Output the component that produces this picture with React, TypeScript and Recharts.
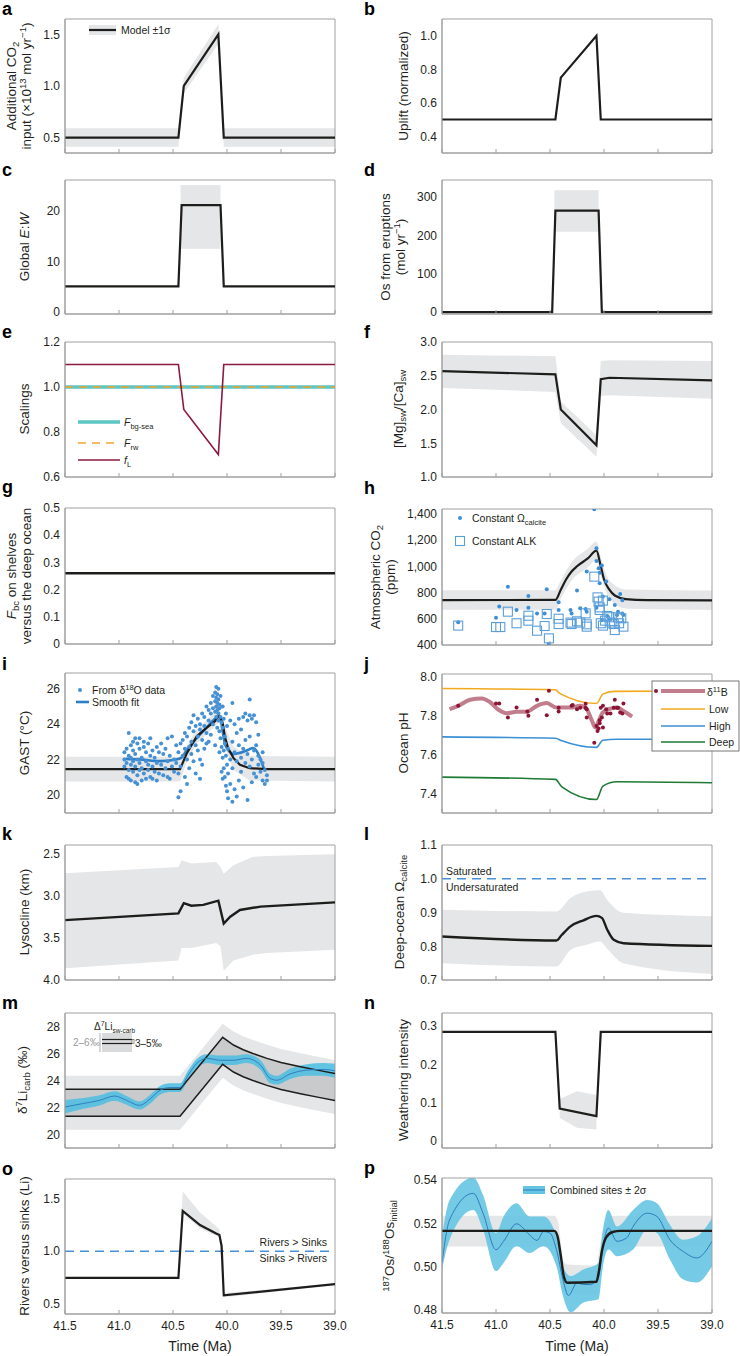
import React from 'react';
import { ComposedChart, Line, Area, Scatter, XAxis, YAxis, ReferenceLine, ReferenceArea } from 'recharts';

const FONT = '"Liberation Sans", Arial, Helvetica, sans-serif';
const TXT = '#231f20';
const FRAME = '#a0a0a0';
const GREY = '#e5e6e7';
const DGREY = '#c9cacb';
const BLACK = '#1d1d1b';
const DASHBLUE = '#4a90d9';

const XT = [41.5, 41.0, 40.5, 40.0, 39.5, 39.0];
const XDOM: [number, number] = [39.0, 41.5];
const PW = 270;
const LP = 64;
const TP = 6;
const RP = 16;

type P2 = [number, number][];
type P3 = [number, number, number][];

// ---------- a: additional CO2 input ----------
const aLine: P2 = [[41.5, 0.5], [40.45, 0.5], [40.4, 1.0], [40.08, 1.5], [40.03, 0.5], [39.0, 0.5]];
const aBand: P3 = [[41.5, 0.41, 0.59], [40.45, 0.41, 0.59], [40.4, 0.93, 1.08], [40.08, 1.41, 1.6], [40.03, 0.41, 0.59], [39.0, 0.41, 0.59]];
// ---------- b: uplift ----------
const bLine: P2 = [[41.5, 0.5], [40.45, 0.5], [40.4, 0.75], [40.07, 1.0], [40.03, 0.5], [39.0, 0.5]];
// ---------- c: global E:W ----------
const cLine: P2 = [[41.5, 5], [40.45, 5], [40.42, 21.2], [40.06, 21.2], [40.03, 5], [39.0, 5]];
const cBand: P3 = [[40.43, 12.5, 25.2], [40.06, 12.5, 25.2]];
// ---------- d: Os from eruptions ----------
const dLine: P2 = [[41.5, 0], [40.48, 0], [40.45, 265], [40.05, 265], [40.02, 0], [39.0, 0]];
const dBand: P3 = [[40.46, 210, 318], [40.05, 210, 318]];
// ---------- e: scalings ----------
const eBgSea: P2 = [[41.5, 1.0], [39.0, 1.0]];
const eRw: P2 = [[41.5, 1.0], [39.0, 1.0]];
const eFL: P2 = [[41.5, 1.1], [40.45, 1.1], [40.4, 0.9], [40.08, 0.7], [40.03, 1.1], [39.0, 1.1]];
// ---------- f: Mg/Ca ----------
const fLine: P2 = [[41.5, 2.57], [40.45, 2.52], [40.4, 2.0], [40.07, 1.47], [40.03, 2.45], [39.95, 2.47], [39.0, 2.43]];
const fBand: P3 = [[41.5, 2.32, 2.81], [40.45, 2.26, 2.79], [40.4, 1.8, 2.12], [40.07, 1.3, 1.62], [40.03, 2.2, 2.72], [39.95, 2.21, 2.73], [39.0, 2.16, 2.72]];
// ---------- g: Fbc ----------
const gLine: P2 = [[41.5, 0.26], [39.0, 0.26]];
// ---------- h: atmospheric CO2 ----------
const hLine: P2 = [[41.5, 740], [40.45, 741], [40.4, 820], [40.35, 900], [40.3, 960], [40.25, 1000], [40.15, 1060], [40.07, 1120], [40.03, 1000], [40.0, 900], [39.95, 820], [39.9, 775], [39.8, 748], [39.6, 740], [39.0, 738]];
const hBand: P3 = [[41.5, 665, 815], [40.45, 666, 816], [40.4, 750, 890], [40.3, 890, 1030], [40.15, 990, 1135], [40.07, 1050, 1190], [40.03, 930, 1070], [39.95, 750, 890], [39.8, 675, 822], [39.0, 663, 813]];
const hCirc: P2 = [[41.35, 569], [41.0, 605], [40.97, 690], [40.89, 843], [40.81, 664], [40.7, 772], [40.7, 682], [40.62, 638], [40.55, 638], [40.53, 823], [40.51, 403], [40.42, 723], [40.42, 664], [40.31, 664], [40.3, 638], [40.25, 813], [40.22, 677], [40.17, 672], [40.16, 959], [40.16, 651], [40.09, 1438], [40.07, 1138], [40.07, 1041], [40.05, 985], [40.04, 951], [40.02, 1005], [40.04, 869], [39.98, 882], [40.01, 767], [39.95, 746], [39.95, 592], [39.9, 703], [39.88, 626], [39.87, 651], [39.85, 787], [39.83, 738], [39.83, 638], [39.82, 626], [40.02, 587], [40.07, 682], [39.97, 618]];
const hSq: P2 = [[41.35, 544], [41.0, 533], [40.96, 533], [40.89, 651], [40.81, 562], [40.7, 582], [40.7, 620], [40.62, 505], [40.55, 541], [40.53, 633], [40.51, 446], [40.42, 597], [40.42, 556], [40.31, 567], [40.3, 556], [40.25, 577], [40.22, 567], [40.17, 638], [40.16, 554], [40.16, 536], [40.09, 920], [40.06, 761], [40.05, 728], [40.04, 664], [40.04, 684], [40.01, 736], [40.03, 562], [40.01, 544], [39.99, 582], [39.97, 618], [39.95, 608], [39.93, 567], [39.91, 556], [39.9, 510], [39.87, 608], [39.86, 562], [39.84, 600], [39.82, 536]];
// ---------- i: GAST ----------
const iLine: P2 = [[41.5, 21.45], [40.435, 21.45], [40.37, 22.37], [40.28, 23.31], [40.19, 23.79], [40.11, 24.17], [40.074, 24.49], [40.04, 24.07], [40.02, 23.3], [39.99, 22.65], [39.94, 22.08], [39.88, 21.7], [39.79, 21.5], [39.63, 21.45], [39.0, 21.45]];
const iBand: P3 = [[41.5, 20.75, 22.15], [40.435, 20.75, 22.15], [40.37, 21.9, 22.8], [40.28, 22.9, 23.7], [40.19, 23.4, 24.2], [40.074, 24.1, 24.9], [40.02, 22.7, 23.9], [39.94, 21.4, 22.7], [39.79, 20.8, 22.2], [39.0, 20.75, 22.15]];
const iFit: P2 = [[40.94, 22.03], [40.81, 22.0], [40.62, 21.9], [40.47, 22.0], [40.42, 22.1], [40.37, 22.55], [40.28, 23.2], [40.19, 23.8], [40.1, 24.35], [40.065, 24.45], [40.04, 23.6], [40.02, 22.9], [39.99, 22.55], [39.94, 22.3], [39.88, 22.37], [39.8, 22.55], [39.76, 22.65], [39.71, 22.3], [39.66, 21.5]];
const iPts: P2 = [
  [40.95, 22.0], [40.95, 21.6], [40.95, 22.4], [40.93, 21.0], [40.93, 22.6], [40.93, 21.8], [40.91, 20.9], [40.91, 22.2], [40.91, 21.4], [40.91, 23.5],
  [40.89, 21.7], [40.89, 22.8], [40.89, 20.8], [40.89, 22.1], [40.87, 23.0], [40.87, 21.3], [40.87, 22.5], [40.87, 21.9], [40.85, 20.7], [40.85, 22.3],
  [40.85, 21.6], [40.85, 23.2], [40.83, 21.1], [40.83, 22.0], [40.83, 22.9], [40.83, 20.6], [40.81, 21.8], [40.81, 23.2], [40.81, 21.4], [40.81, 22.6],
  [40.79, 20.8], [40.79, 22.1], [40.79, 21.5], [40.77, 22.7], [40.77, 21.2], [40.77, 23.0], [40.75, 21.9], [40.75, 20.9], [40.75, 22.4], [40.73, 21.4],
  [40.73, 22.9], [40.73, 21.7], [40.71, 21.0], [40.71, 22.2], [40.71, 23.2], [40.69, 21.6], [40.69, 22.5], [40.69, 20.9], [40.67, 22.1], [40.67, 21.3],
  [40.65, 21.8], [40.65, 22.7], [40.65, 20.8], [40.63, 22.4], [40.63, 21.2], [40.61, 21.7], [40.61, 22.9], [40.59, 21.1], [40.59, 22.3], [40.57, 22.6],
  [40.57, 21.5], [40.55, 23.2], [40.55, 21.9], [40.55, 21.0], [40.53, 22.2], [40.53, 20.9], [40.51, 23.3], [40.51, 21.6], [40.49, 22.0], [40.49, 21.3],
  [40.47, 22.8], [40.47, 21.8], [40.45, 21.2], [40.45, 22.4], [40.45, 19.85], [40.43, 22.9], [40.43, 21.6], [40.43, 20.2], [40.41, 23.1], [40.41, 22.2],
  [40.39, 22.6], [40.39, 21.0], [40.39, 23.5], [40.37, 23.3], [40.37, 22.0], [40.37, 20.6], [40.35, 23.8], [40.35, 22.7], [40.35, 21.5], [40.33, 23.0],
  [40.33, 24.1], [40.33, 22.3], [40.31, 23.6], [40.31, 21.9], [40.31, 24.5], [40.29, 22.8], [40.29, 23.9], [40.29, 21.2], [40.27, 24.3], [40.27, 23.3],
  [40.27, 22.5], [40.25, 23.7], [40.25, 24.0], [40.25, 22.0], [40.25, 20.9], [40.23, 24.6], [40.23, 23.1], [40.23, 21.7], [40.21, 23.9], [40.21, 24.4],
  [40.21, 22.6], [40.19, 25.0], [40.19, 23.5], [40.19, 22.9], [40.17, 24.2], [40.17, 24.8], [40.17, 23.0], [40.15, 24.6], [40.15, 23.4], [40.15, 25.2],
  [40.13, 24.9], [40.13, 24.0], [40.13, 25.6], [40.11, 25.3], [40.11, 24.7], [40.11, 25.8], [40.11, 22.8], [40.1, 25.0], [40.1, 25.5], [40.1, 24.4],
  [40.1, 26.1], [40.09, 25.2], [40.09, 24.8], [40.09, 25.7], [40.09, 23.8], [40.08, 24.6], [40.08, 25.4], [40.08, 24.2], [40.08, 26.0], [40.07, 25.1],
  [40.07, 24.9], [40.07, 23.6], [40.07, 22.4], [40.06, 24.4], [40.06, 23.2], [40.06, 25.6], [40.05, 22.7], [40.05, 24.1], [40.05, 21.3], [40.04, 23.8],
  [40.04, 22.1], [40.04, 20.9], [40.04, 25.0], [40.03, 22.5], [40.03, 24.3], [40.03, 21.5], [40.02, 21.0], [40.02, 23.3], [40.02, 22.9], [40.01, 22.2],
  [40.01, 20.5], [40.01, 24.6], [40.0, 21.7], [40.0, 23.9], [40.0, 20.2], [39.99, 22.6], [39.99, 19.8], [39.99, 21.2], [39.97, 22.0], [39.97, 24.2],
  [39.97, 20.6], [39.95, 21.5], [39.95, 23.0], [39.95, 19.6], [39.95, 25.2], [39.93, 22.4], [39.93, 20.3], [39.93, 24.0], [39.91, 21.9], [39.91, 23.5],
  [39.91, 19.9], [39.89, 22.8], [39.89, 20.8], [39.89, 24.3], [39.87, 21.3], [39.87, 23.7], [39.87, 22.1], [39.85, 24.4], [39.85, 20.4], [39.85, 22.6],
  [39.83, 23.1], [39.83, 21.8], [39.83, 24.6], [39.81, 22.3], [39.81, 24.2], [39.81, 19.7], [39.79, 24.5], [39.79, 21.6], [39.79, 23.3], [39.79, 25.4],
  [39.77, 22.0], [39.77, 24.3], [39.77, 20.7], [39.75, 24.5], [39.75, 22.5], [39.75, 21.2], [39.73, 22.8], [39.73, 24.1], [39.73, 21.0], [39.71, 23.4],
  [39.71, 21.7], [39.71, 22.2], [39.69, 22.0], [39.69, 21.3], [39.67, 21.8], [39.67, 20.8], [39.67, 22.4], [39.65, 21.4], [39.65, 20.6], [39.63, 20.8], [39.63, 21.1]
];
// ---------- j: ocean pH ----------
const jLow: P2 = [[41.5, 7.938], [40.45, 7.931], [40.41, 7.913], [40.07, 7.861], [40.01, 7.909], [39.91, 7.923], [39.0, 7.925]];
const jHigh: P2 = [[41.5, 7.69], [40.45, 7.683], [40.39, 7.67], [40.07, 7.636], [40.01, 7.673], [39.88, 7.678], [39.0, 7.678]];
const jDeep: P2 = [[41.5, 7.484], [40.45, 7.472], [40.39, 7.434], [40.07, 7.369], [40.01, 7.438], [39.88, 7.46], [39.0, 7.455]];
const jB11: P2 = [[41.43, 7.832], [41.35, 7.849], [41.24, 7.88], [41.13, 7.887], [41.06, 7.87], [40.98, 7.83], [40.9, 7.811], [40.81, 7.818], [40.72, 7.818], [40.62, 7.849], [40.53, 7.863], [40.44, 7.84], [40.31, 7.84], [40.22, 7.849], [40.16, 7.832], [40.11, 7.77], [40.08, 7.738], [40.05, 7.77], [40.01, 7.815], [39.94, 7.835], [39.88, 7.84], [39.82, 7.823], [39.74, 7.794]];
const jDots: P2 = [[41.35, 7.849], [41.0, 7.861], [40.97, 7.861], [40.89, 7.789], [40.81, 7.841], [40.71, 7.82], [40.7, 7.798], [40.62, 7.88], [40.53, 7.801], [40.51, 7.926], [40.42, 7.839], [40.42, 7.82], [40.3, 7.849], [40.29, 7.853], [40.25, 7.832], [40.22, 7.839], [40.17, 7.859], [40.17, 7.839], [40.16, 7.789], [40.09, 7.66], [40.07, 7.746], [40.06, 7.72], [40.05, 7.733], [40.04, 7.76], [40.04, 7.775], [40.02, 7.789], [40.03, 7.839], [40.01, 7.738], [40.01, 7.849], [39.98, 7.832], [39.97, 7.81], [39.94, 7.81], [39.91, 7.839], [39.9, 7.88], [39.88, 7.839], [39.87, 7.839], [39.85, 7.815], [39.83, 7.81], [39.82, 7.861], [40.16, 7.832]];
// ---------- k: lysocline ----------
const kLine: P2 = [[41.5, 3.29], [40.45, 3.21], [40.4, 3.09], [40.33, 3.12], [40.22, 3.11], [40.08, 3.06], [40.03, 3.33], [39.97, 3.25], [39.88, 3.17], [39.69, 3.13], [39.0, 3.08]];
const kBand: P3 = [[41.5, 2.735, 3.86], [40.45, 2.66, 3.77], [40.42, 2.58, 3.62], [40.33, 2.62, 3.62], [40.1, 2.6, 3.56], [40.06, 2.66, 3.6], [40.03, 2.74, 3.89], [39.94, 2.64, 3.77], [39.76, 2.54, 3.7], [39.63, 2.53, 3.68], [39.0, 2.51, 3.64]];
// ---------- l: deep-ocean omega ----------
const lLine: P2 = [[41.5, 0.829], [40.44, 0.817], [40.39, 0.834], [40.31, 0.859], [40.19, 0.877], [40.07, 0.89], [40.02, 0.884], [39.97, 0.849], [39.91, 0.819], [39.82, 0.809], [39.0, 0.801]];
const lBand: P3 = [[41.5, 0.75, 0.908], [40.44, 0.74, 0.903], [40.31, 0.789, 0.943], [40.15, 0.805, 0.963], [40.04, 0.814, 0.966], [39.96, 0.789, 0.933], [39.82, 0.75, 0.899], [39.0, 0.718, 0.889]];
const lSat = 1.0;
// ---------- m: d7Li ----------
const mUp: P2 = [[41.5, 23.35], [40.435, 23.35], [40.04, 27.2], [39.94, 26.63], [39.85, 26.28], [39.76, 26.0], [39.63, 25.64], [39.5, 25.33], [39.32, 25.02], [39.15, 24.75], [39.0, 24.52]];
const mLo: P2 = [[41.5, 21.35], [40.435, 21.35], [40.04, 25.2], [39.94, 24.63], [39.85, 24.28], [39.76, 24.0], [39.63, 23.64], [39.5, 23.33], [39.32, 23.02], [39.15, 22.75], [39.0, 22.52]];
const mInner: P3 = [[41.5, 21.35, 23.35], [40.435, 21.35, 23.35], [40.04, 25.2, 27.2], [39.94, 24.63, 26.63], [39.85, 24.28, 26.28], [39.76, 24.0, 26.0], [39.63, 23.64, 25.64], [39.5, 23.33, 25.33], [39.32, 23.02, 25.02], [39.15, 22.75, 24.75], [39.0, 22.52, 24.52]];
const mOuter: P3 = [[41.5, 20.35, 24.35], [40.435, 20.35, 24.35], [40.04, 24.2, 28.2], [39.94, 23.63, 27.63], [39.85, 23.28, 27.28], [39.76, 23.0, 27.0], [39.63, 22.64, 26.64], [39.5, 22.33, 26.33], [39.32, 22.02, 26.02], [39.15, 21.75, 25.75], [39.0, 21.52, 25.52]];
const mFit: P2 = [[41.5, 22.04], [41.33, 22.3], [41.18, 22.53], [41.04, 22.85], [40.93, 22.53], [40.81, 22.16], [40.71, 22.65], [40.62, 23.28], [40.53, 23.48], [40.435, 23.48], [40.36, 24.4], [40.28, 25.27], [40.19, 25.64], [40.06, 25.5], [39.94, 25.5], [39.82, 25.64], [39.69, 25.14], [39.6, 24.15], [39.54, 24.02], [39.42, 24.47], [39.26, 24.77], [39.11, 24.82], [39.0, 24.72]];
const mFitBand: P3 = [[41.5, 21.55, 22.55], [41.33, 21.9, 22.7], [41.18, 22.15, 22.9], [41.04, 22.5, 23.2], [40.93, 22.2, 22.85], [40.81, 21.85, 22.45], [40.71, 22.3, 22.95], [40.62, 22.95, 23.6], [40.53, 23.15, 23.8], [40.435, 23.15, 23.8], [40.36, 24.05, 24.75], [40.28, 24.9, 25.6], [40.19, 25.3, 25.95], [40.06, 25.15, 25.85], [39.94, 25.15, 25.85], [39.82, 25.3, 25.95], [39.69, 24.8, 25.5], [39.6, 23.8, 24.5], [39.54, 23.7, 24.35], [39.42, 24.1, 24.85], [39.26, 24.35, 25.2], [39.11, 24.35, 25.3], [39.0, 24.2, 25.25]];
// ---------- n: weathering intensity ----------
const nLine: P2 = [[41.5, 0.285], [40.45, 0.285], [40.41, 0.085], [40.07, 0.065], [40.03, 0.285], [39.0, 0.285]];
const nBand: P3 = [[40.41, 0.06, 0.11], [40.25, 0.035, 0.13], [40.07, 0.03, 0.12]];
// ---------- o: rivers vs sinks ----------
const oLine: P2 = [[41.5, 0.745], [40.45, 0.745], [40.41, 1.385], [40.25, 1.25], [40.1, 1.17], [40.07, 1.155], [40.05, 1.05], [40.03, 0.578], [39.0, 0.686]];
const oBand: P3 = [[40.45, 0.745, 0.745], [40.41, 1.36, 1.57], [40.25, 1.22, 1.37], [40.07, 1.13, 1.21], [40.03, 0.56, 0.6], [39.8, 0.585, 0.62], [39.5, 0.62, 0.645], [39.0, 0.68, 0.695]];
const oEq = 1.0;
// ---------- p: 187Os/188Os ----------
const pLine: P2 = [[41.5, 0.5165], [40.46, 0.5165], [40.43, 0.514], [40.4, 0.505], [40.37, 0.495], [40.34, 0.4925], [40.07, 0.493], [40.05, 0.497], [40.02, 0.507], [39.98, 0.5135], [39.92, 0.516], [39.85, 0.5165], [39.0, 0.5165]];
const pBand: P3 = [[41.5, 0.5093, 0.5235], [40.46, 0.5093, 0.5235], [40.43, 0.5065, 0.5215], [40.37, 0.489, 0.502], [40.34, 0.487, 0.501], [40.07, 0.487, 0.5005], [40.03, 0.499, 0.512], [39.98, 0.5075, 0.521], [39.9, 0.5093, 0.5235], [39.0, 0.5093, 0.5235]];
const pFit: P2 = [[41.5, 0.5017], [41.43, 0.5216], [41.21, 0.5339], [41.12, 0.5247], [41.0, 0.5078], [40.93, 0.5117], [40.81, 0.5198], [40.69, 0.5147], [40.62, 0.5121], [40.56, 0.5162], [40.5, 0.5155], [40.44, 0.5078], [40.38, 0.494], [40.33, 0.4866], [40.25, 0.4924], [40.19, 0.4917], [40.13, 0.4917], [40.05, 0.4955], [40.01, 0.5093], [39.96, 0.5178], [39.88, 0.5117], [39.79, 0.5133], [39.73, 0.5186], [39.6, 0.5247], [39.51, 0.5232], [39.39, 0.5124], [39.27, 0.5071], [39.14, 0.504], [39.0, 0.5117]];
const pFitBand: P3 = [[41.5, 0.4987, 0.514], [41.43, 0.5124, 0.5308], [41.21, 0.5262, 0.5412], [41.12, 0.517, 0.5331], [41.0, 0.4979, 0.5155], [40.93, 0.5017, 0.5232], [40.81, 0.5094, 0.5293], [40.69, 0.5063, 0.5232], [40.56, 0.5094, 0.5232], [40.44, 0.5002, 0.514], [40.38, 0.4864, 0.5002], [40.31, 0.4788, 0.4956], [40.19, 0.4834, 0.4987], [40.05, 0.4849, 0.5017], [40.01, 0.5002, 0.517], [39.96, 0.5079, 0.5262], [39.88, 0.5048, 0.5186], [39.73, 0.5079, 0.5262], [39.6, 0.517, 0.5308], [39.51, 0.5155, 0.5293], [39.39, 0.5033, 0.5193], [39.27, 0.4941, 0.5124], [39.14, 0.4926, 0.514], [39.0, 0.5002, 0.5224]];

const L = (a: P2) => a.map(([t, v]) => ({ t, v }));
const B = (a: P3) => a.map(([t, lo, hi]) => ({ t, r: [lo, hi] }));

const band = (d: P3, fill = GREY, type: any = 'linear', op = 1) => (
  <Area data={B(d)} dataKey="r" type={type} stroke="none" fill={fill} fillOpacity={op} isAnimationActive={false} dot={false} activeDot={false} />
);
const line = (d: P2, stroke = BLACK, w = 2.2, type: any = 'linear', dash?: string) => (
  <Line data={L(d)} dataKey="v" type={type} stroke={stroke} strokeWidth={w} strokeDasharray={dash} dot={false} activeDot={false} isAnimationActive={false} />
);
const dots = (d: P2, shape: any) => (
  <Scatter data={L(d)} dataKey="v" shape={shape} isAnimationActive={false} />
);
const circ = (r: number, fill: string) => (p: any) => <circle cx={p.cx} cy={p.cy} r={r} fill={fill} />;
const sq = (p: any) => <rect x={p.cx - 4.5} y={p.cy - 4.5} width={9} height={9} fill="none" stroke="#5b9fd9" strokeWidth={1.1} />;

const f1 = (v: number) => v.toFixed(1);
const f0 = (v: number) => String(Math.round(v));
const f2 = (v: number) => v.toFixed(2);
const fz = (v: number) => (v === 0 ? '0' : v.toFixed(1));
const fc = (v: number) => v.toLocaleString('en-US');

function Panel(props: any) {
  const { x0, y0, h, domain, ticks, fmt, reversed, xLabels, children } = props;
  const BP = xLabels ? 26 : 6;
  const axisY = TP + h;
  return (
    <div style={{ position: 'absolute', left: x0 - LP, top: y0 - TP }}>
      <ComposedChart width={LP + PW + RP} height={TP + h + BP} margin={{ top: TP, right: RP, left: 0, bottom: 0 }}>
        <XAxis
          type="number" dataKey="t" domain={XDOM} reversed allowDataOverflow ticks={XT} interval={0} height={BP}
          axisLine={{ stroke: FRAME }} tickLine={false}
          tick={(p: any) => (
            <g>
              <line x1={p.x} x2={p.x} y1={axisY} y2={axisY - 4} stroke={FRAME} />
              {xLabels ? (
                <text x={p.x} y={axisY + 16} textAnchor="middle" fontSize={12} fill={TXT} fontFamily={FONT}>
                  {Number(p.payload.value).toFixed(1)}
                </text>
              ) : null}
            </g>
          )}
        />
        <YAxis
          type="number" domain={domain} ticks={ticks} interval={0} allowDataOverflow reversed={reversed} width={LP}
          axisLine={{ stroke: FRAME }} tickLine={false} tickSize={0} tickMargin={5}
          tick={{ fontSize: 12, fill: TXT, fontFamily: FONT }} tickFormatter={fmt}
        />
        {children}
        <ReferenceArea x1={XDOM[0]} x2={XDOM[1]} y1={domain[0]} y2={domain[1]} fill="none" fillOpacity={0} stroke={FRAME} strokeWidth={1} />
      </ComposedChart>
    </div>
  );
}

const XL = 65;
const XR = 442;

function YL({ cx, cy, children, size = 13.5 }: any) {
  return (
    <text transform={`translate(${cx + size * 0.36},${cy}) rotate(-90)`} textAnchor="middle" fontSize={size} fill={TXT}>
      {children}
    </text>
  );
}

function Letter({ x, y, c }: any) {
  return <text x={x} y={y} fontSize={18} fontWeight="bold" fill="#000">{c}</text>;
}

export default function App() {
  return (
    <div style={{ position: 'absolute', left: 0, top: 0, width: 740, height: 1356, background: '#fff', fontFamily: FONT }}>
      {/* a */}
      <Panel x0={XL} y0={19} h={134} domain={[0.35, 1.65]} ticks={[0.5, 1.0, 1.5]} fmt={f1}>
        {band(aBand)}
        {line(aLine)}
      </Panel>
      {/* b */}
      <Panel x0={XR} y0={19} h={134} domain={[0.3, 1.1]} ticks={[0.4, 0.6, 0.8, 1.0]} fmt={f1}>
        {line(bLine)}
      </Panel>
      {/* c */}
      <Panel x0={XL} y0={180} h={134} domain={[-0.5, 26.2]} ticks={[0, 10, 20]} fmt={f0}>
        {band(cBand)}
        {line(cLine)}
      </Panel>
      {/* d */}
      <Panel x0={XR} y0={180} h={134} domain={[-5, 345]} ticks={[0, 100, 200, 300]} fmt={f0}>
        {band(dBand)}
        {line(dLine)}
      </Panel>
      {/* e */}
      <Panel x0={XL} y0={342} h={135} domain={[0.6, 1.2]} ticks={[0.6, 0.8, 1.0, 1.2]} fmt={f1}>
        {line(eBgSea, '#5cc6c4', 3.5)}
        {line(eRw, '#f0a52a', 1.6, 'linear', '8 6')}
        {line(eFL, '#8c1a3e', 1.6)}
      </Panel>
      {/* f */}
      <Panel x0={XR} y0={342} h={135} domain={[1.0, 3.0]} ticks={[1.0, 1.5, 2.0, 2.5, 3.0]} fmt={f1}>
        {band(fBand)}
        {line(fLine)}
      </Panel>
      {/* g */}
      <Panel x0={XL} y0={508} h={136} domain={[0, 0.5]} ticks={[0, 0.1, 0.2, 0.3, 0.4, 0.5]} fmt={fz}>
        {line(gLine, BLACK, 2.6)}
      </Panel>
      {/* h */}
      <Panel x0={XR} y0={509} h={136} domain={[395, 1440]} ticks={[400, 600, 800, 1000, 1200, 1400]} fmt={fc}>
        {band(hBand, GREY, 'monotone')}
        {dots(hCirc, circ(2, '#3d8ed6'))}
        {dots(hSq, sq)}
        {line(hLine, BLACK, 2.2, 'monotone')}
      </Panel>
      {/* i */}
      <Panel x0={XL} y0={673} h={140} domain={[18.96, 26.9]} ticks={[20, 22, 24, 26]} fmt={f0}>
        {band(iBand)}
        {dots(iPts, circ(2, '#4690d4'))}
        {line(iFit, '#2f7fc6', 2.6, 'monotone')}
        {line(iLine, BLACK, 2.2, 'linear')}
      </Panel>
      {/* j */}
      <Panel x0={XR} y0={674} h={139} domain={[7.3, 8.012]} ticks={[7.4, 7.6, 7.8, 8.0]} fmt={f1}>
        {line(jLow, '#f2a91e', 1.6, 'monotone')}
        {line(jHigh, '#3d8fd6', 1.6, 'monotone')}
        {line(jDeep, '#1e7b36', 1.6, 'monotone')}
        {line(jB11, '#c27d8c', 4, 'monotone')}
        {dots(jDots, circ(2, '#8a1535'))}
      </Panel>
      {/* k */}
      <Panel x0={XL} y0={845} h={135} domain={[2.4, 4.0]} ticks={[2.5, 3.0, 3.5, 4.0]} fmt={f1} reversed>
        {band(kBand)}
        {line(kLine, BLACK, 2.4)}
      </Panel>
      {/* l */}
      <Panel x0={XR} y0={845} h={135} domain={[0.7, 1.1]} ticks={[0.7, 0.8, 0.9, 1.0, 1.1]} fmt={f1}>
        {band(lBand, GREY, 'monotone')}
        <ReferenceLine y={lSat} stroke={DASHBLUE} strokeWidth={1.6} strokeDasharray="9 6" />
        {line(lLine, BLACK, 2.4, 'monotone')}
      </Panel>
      {/* m */}
      <Panel x0={XL} y0={1013} h={135} domain={[19, 29]} ticks={[20, 22, 24, 26, 28]} fmt={f0}>
        {band(mOuter)}
        {band(mInner, DGREY)}
        {line(mUp, BLACK, 1.5)}
        {line(mLo, BLACK, 1.5)}
        {band(mFitBand, '#4bbde2', 'monotone', 0.85)}
        {line(mFit, '#2f7fc0', 1, 'monotone')}
      </Panel>
      {/* n */}
      <Panel x0={XR} y0={1013} h={135} domain={[-0.018, 0.334]} ticks={[0, 0.1, 0.2, 0.3]} fmt={fz}>
        {band(nBand)}
        {line(nLine)}
      </Panel>
      {/* o */}
      <Panel x0={XL} y0={1179} h={135} domain={[0.4, 1.69]} ticks={[0.5, 1.0, 1.5]} fmt={f1} xLabels>
        {band(oBand)}
        <ReferenceLine y={oEq} stroke={DASHBLUE} strokeWidth={1.6} strokeDasharray="9 6" />
        {line(oLine)}
      </Panel>
      {/* p */}
      <Panel x0={XR} y0={1178} h={135} domain={[0.4785, 0.541]} ticks={[0.48, 0.5, 0.52, 0.54]} fmt={f2} xLabels>
        {band(pBand, GREY, 'monotone')}
        {band(pFitBand, '#66c5e2', 'monotone', 0.9)}
        {line(pFit, '#2b7bbd', 1, 'monotone')}
        {line(pLine, BLACK, 2.4, 'monotone')}
      </Panel>

      <svg width={740} height={1356} style={{ position: 'absolute', left: 0, top: 0, pointerEvents: 'none' }} fontFamily={FONT}>
        {/* panel letters */}
        <Letter x={2} y={15} c="a" />
        <Letter x={364} y={15} c="b" />
        <Letter x={2} y={176} c="c" />
        <Letter x={364} y={176} c="d" />
        <Letter x={2} y={338} c="e" />
        <Letter x={364} y={338} c="f" />
        <Letter x={2} y={493} c="g" />
        <Letter x={364} y={494} c="h" />
        <Letter x={2} y={670} c="i" />
        <Letter x={364} y={670} c="j" />
        <Letter x={2} y={840} c="k" />
        <Letter x={364} y={840} c="l" />
        <Letter x={2} y={1009} c="m" />
        <Letter x={364} y={1009} c="n" />
        <Letter x={2} y={1175} c="o" />
        <Letter x={364} y={1174} c="p" />

        {/* y-axis labels */}
        <YL cx={11} cy={86}>Additional CO<tspan dy={3} fontSize={9.5}>2</tspan></YL>
        <YL cx={26} cy={86}>input (×10<tspan dy={-5} fontSize={9.5}>13</tspan><tspan dy={5}> mol yr</tspan><tspan dy={-5} fontSize={9.5}>−1</tspan><tspan dy={5}>)</tspan></YL>
        <YL cx={403} cy={86}>Uplift (normalized)</YL>
        <YL cx={24} cy={247}>Global <tspan fontStyle="italic">E</tspan>:<tspan fontStyle="italic">W</tspan></YL>
        <YL cx={385} cy={247}>Os from eruptions</YL>
        <YL cx={400} cy={247}>(mol yr<tspan dy={-5} fontSize={9.5}>−1</tspan><tspan dy={5}>)</tspan></YL>
        <YL cx={24} cy={409}>Scalings</YL>
        <YL cx={398} cy={409}>[Mg]<tspan dy={3} fontSize={9.5}>sw</tspan><tspan dy={-3}>/[Ca]</tspan><tspan dy={3} fontSize={9.5}>sw</tspan></YL>
        <YL cx={11} cy={576}><tspan fontStyle="italic">F</tspan><tspan dy={3} fontSize={9.5}>bc</tspan><tspan dy={-3}> on shelves</tspan></YL>
        <YL cx={26} cy={576}>versus the deep ocean</YL>
        <YL cx={375} cy={577}>Atmospheric CO<tspan dy={3} fontSize={9.5}>2</tspan></YL>
        <YL cx={390} cy={577}>(ppm)</YL>
        <YL cx={24} cy={743}>GAST (°C)</YL>
        <YL cx={403} cy={743}>Ocean pH</YL>
        <YL cx={24} cy={912}>Lysocline (km)</YL>
        <YL cx={399} cy={912}>Deep-ocean Ω<tspan dy={3} fontSize={9.5}>calcite</tspan></YL>
        <YL cx={22} cy={1080}>δ<tspan dy={-5} fontSize={9.5}>7</tspan><tspan dy={5}>Li</tspan><tspan dy={3} fontSize={9.5}>carb</tspan><tspan dy={-3}> (‰)</tspan></YL>
        <YL cx={403} cy={1080}>Weathering intensity</YL>
        <YL cx={24} cy={1246}>Rivers versus sinks (Li)</YL>
        <YL cx={389} cy={1246}><tspan dy={-5} fontSize={9.5}>187</tspan><tspan dy={5}>Os/</tspan><tspan dy={-5} fontSize={9.5}>188</tspan><tspan dy={5}>Os</tspan><tspan dy={3} fontSize={9.5}>initial</tspan></YL>

        {/* x-axis titles */}
        <text x={200} y={1351} textAnchor="middle" fontSize={14} fill={TXT}>Time (Ma)</text>
        <text x={577} y={1351} textAnchor="middle" fontSize={14} fill={TXT}>Time (Ma)</text>

        {/* a legend */}
        <rect x={89} y={25} width={27} height={10} fill={GREY} />
        <line x1={89} x2={116} y1={30} y2={30} stroke={BLACK} strokeWidth={2.2} />
        <text x={121} y={34} fontSize={10.5} fill={TXT}>Model  ±1σ</text>

        {/* e legend */}
        <line x1={78} x2={120} y1={422} y2={422} stroke="#5cc6c4" strokeWidth={3.5} />
        <line x1={78} x2={120} y1={443} y2={443} stroke="#f0a52a" strokeWidth={1.6} strokeDasharray="8 6" />
        <line x1={78} x2={120} y1={460} y2={460} stroke="#8c1a3e" strokeWidth={1.6} />
        <text x={124} y={426} fontSize={10.5} fill={TXT}><tspan fontStyle="italic">F</tspan><tspan dy={3} fontSize={7.5}>bg-sea</tspan></text>
        <text x={124} y={447} fontSize={10.5} fill={TXT}><tspan fontStyle="italic">F</tspan><tspan dy={3} fontSize={7.5}>rw</tspan></text>
        <text x={124} y={464} fontSize={10.5} fill={TXT}><tspan fontStyle="italic">f</tspan><tspan dy={3} fontSize={7.5}>L</tspan></text>

        {/* h legend */}
        <circle cx={460} cy={518} r={2} fill="#3d8ed6" />
        <text x={472} y={522} fontSize={10.5} fill={TXT}>Constant Ω<tspan dy={3} fontSize={7.5}>calcite</tspan></text>
        <rect x={455.5} y={536.5} width={9} height={9} fill="none" stroke="#5b9fd9" strokeWidth={1.1} />
        <text x={472} y={545} fontSize={10.5} fill={TXT}>Constant ALK</text>

        {/* i legend */}
        <circle cx={80} cy={690} r={2} fill="#4690d4" />
        <text x={92} y={694} fontSize={10.5} fill={TXT}>From δ<tspan dy={-4} fontSize={7.5}>18</tspan><tspan dy={4}>O data</tspan></text>
        <line x1={76} x2={89} y1={702} y2={702} stroke="#2f7fc6" strokeWidth={2.6} />
        <text x={92} y={706} fontSize={10.5} fill={TXT}>Smooth fit</text>

        {/* j legend */}
        <rect x={652} y={681} width={87} height={70} fill="#fff" stroke="#777" strokeWidth={1} />
        <line x1={661} x2={705} y1={691} y2={691} stroke="#c27d8c" strokeWidth={4} />
        <circle cx={656} cy={691} r={2} fill="#8a1535" />
        <text x={707} y={696} fontSize={10.5} fill={TXT}>δ<tspan dy={-4} fontSize={7.5}>11</tspan><tspan dy={4}>B</tspan></text>
        <line x1={661} x2={705} y1={709} y2={709} stroke="#f2a91e" strokeWidth={1.6} />
        <text x={709} y={713} fontSize={10.5} fill={TXT}>Low</text>
        <line x1={661} x2={705} y1={726} y2={726} stroke="#3d8fd6" strokeWidth={1.6} />
        <text x={709} y={730} fontSize={10.5} fill={TXT}>High</text>
        <line x1={661} x2={705} y1={742} y2={742} stroke="#1e7b36" strokeWidth={1.6} />
        <text x={709} y={746} fontSize={10.5} fill={TXT}>Deep</text>

        {/* l annotations */}
        <text x={446} y={875} fontSize={10.5} fill={TXT}>Saturated</text>
        <text x={446} y={891} fontSize={10.5} fill={TXT}>Undersaturated</text>

        {/* m inset */}
        <text x={94} y={1030} fontSize={10} fill={TXT}>Δ<tspan dy={-4} fontSize={7}>7</tspan><tspan dy={4}>Li</tspan><tspan dy={3} fontSize={6.5}>sw-carb</tspan></text>
        <rect x={102} y={1033} width={30} height={19} fill="#d9dadb" />
        <line x1={102} x2={132} y1={1039.5} y2={1039.5} stroke={BLACK} strokeWidth={1.2} />
        <line x1={102} x2={132} y1={1043.5} y2={1043.5} stroke={BLACK} strokeWidth={1.2} />
        <line x1={100} x2={100} y1={1033} y2={1052} stroke="#999" strokeWidth={0.8} />
        <text x={73} y={1046} fontSize={10} fill="#999">2–6‰</text>
        <rect x={132} y={1039.5} width={2} height={4} fill="none" stroke="#555" strokeWidth={0.6} />
        <text x={135} y={1047} fontSize={10} fill={TXT}>3–5‰</text>

        {/* o annotations */}
        <text x={327} y={1246} fontSize={10.5} fill={TXT} textAnchor="end">Rivers &gt; Sinks</text>
        <text x={327} y={1262} fontSize={10.5} fill={TXT} textAnchor="end">Sinks &gt; Rivers</text>

        {/* p legend */}
        <rect x={523} y={1186} width={22} height={8} fill="#66c5e2" />
        <line x1={523} x2={545} y1={1190} y2={1190} stroke="#2b7bbd" strokeWidth={1} />
        <text x={550} y={1194} fontSize={10.5} fill={TXT}>Combined sites ± 2σ</text>
      </svg>
    </div>
  );
}
